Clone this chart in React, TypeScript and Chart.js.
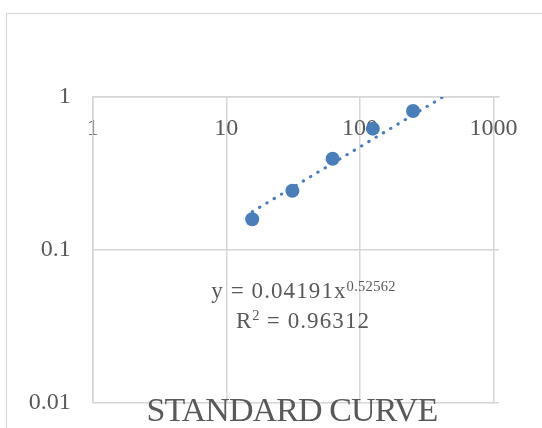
import React, { useEffect, useRef } from "react";
import { Chart, registerables } from "chart.js";

Chart.register(...registerables);

// ---- data ----
const concentrations = [15.625, 31.25, 62.5, 125, 250];
const absorbances = [0.159, 0.244, 0.395, 0.621, 0.81];
const xTickValues = [1, 10, 100, 1000];
const yTickValues = [0.01, 0.1, 1];
const trendCoefA = 0.04191;
const trendExpB = 0.52562;
const trendXRange = [15.625, 418.6];
const equationMain = "y = 0.04191x";
const equationExp = "0.52562";
const r2Base = "R";
const r2Sup = "2";
const r2Rest = " = 0.96312";
const chartTitle = "STANDARD CURVE";

const BLUE = "#4a7ebb";
const GRID = "#d6d6d6";
const TEXT = "#595959";
const SERIF = '"Liberation Serif", "Times New Roman", serif';

const overlayPlugin = {
  id: "overlay",
  beforeDraw(chart: any) {
    const ctx = chart.ctx;
    ctx.save();
    ctx.strokeStyle = "#d9d9d9";
    ctx.lineWidth = 1.2;
    ctx.strokeRect(6.5, 13.5, 1000, 1000);
    ctx.restore();
  },
  afterDraw(chart: any) {
    const ctx = chart.ctx;
    const area = chart.chartArea;
    ctx.save();
    ctx.fillStyle = TEXT;
    ctx.textAlign = "left";
    ctx.textBaseline = "alphabetic";

    const mainFont = `23px ${SERIF}`;
    const mainSpacing = "1.1px";
    const supFont = `14.5px ${SERIF}`;
    const supSpacing = "0.3px";

    // equation line 1
    const cx = 303.5;
    ctx.font = mainFont;
    (ctx as any).letterSpacing = mainSpacing;
    const w1 = ctx.measureText(equationMain).width;
    ctx.font = supFont;
    (ctx as any).letterSpacing = supSpacing;
    const w2 = ctx.measureText(equationExp).width;
    let sx = cx - (w1 + w2) / 2;
    ctx.font = mainFont;
    (ctx as any).letterSpacing = mainSpacing;
    ctx.fillText(equationMain, sx, 298);
    ctx.font = supFont;
    (ctx as any).letterSpacing = supSpacing;
    ctx.fillText(equationExp, sx + w1, 290.7);

    // equation line 2
    ctx.font = mainFont;
    (ctx as any).letterSpacing = mainSpacing;
    const wr = ctx.measureText(r2Base).width;
    const wrest = ctx.measureText(r2Rest).width;
    ctx.font = supFont;
    (ctx as any).letterSpacing = supSpacing;
    const ws = ctx.measureText(r2Sup).width;
    sx = 303 - (wr + ws + wrest) / 2;
    ctx.font = mainFont;
    (ctx as any).letterSpacing = mainSpacing;
    ctx.fillText(r2Base, sx, 328);
    ctx.fillText(r2Rest, sx + wr + ws, 328);
    ctx.font = supFont;
    (ctx as any).letterSpacing = supSpacing;
    ctx.fillText(r2Sup, sx + wr, 320);

    // title
    ctx.font = `34px ${SERIF}`;
    (ctx as any).letterSpacing = "-0.9px";
    const wt = ctx.measureText(chartTitle).width;
    const tcx = (area.left + area.right) / 2 - 4;
    ctx.fillText(chartTitle, tcx - wt / 2, area.bottom + 18);
    ctx.restore();
  },
};

export default function App() {
  const ref = useRef<HTMLCanvasElement>(null);

  useEffect(() => {
    const points = concentrations.map((x, i) => ({ x, y: absorbances[i] }));
    const trend = trendXRange.map((x) => ({ x, y: trendCoefA * Math.pow(x, trendExpB) }));
    const tickFont = { family: SERIF, size: 24 };

    const chart = new Chart(ref.current as HTMLCanvasElement, {
      type: "scatter",
      data: {
        datasets: [
          {
            type: "line",
            label: "Power trend",
            data: trend,
            borderColor: BLUE,
            borderWidth: 3,
            borderDash: [0.5, 8],
            borderCapStyle: "round",
            pointRadius: 0,
            fill: false,
            tension: 0,
            order: 0,
          } as any,
          {
            label: "Standard",
            data: points,
            backgroundColor: BLUE,
            borderColor: BLUE,
            borderWidth: 0,
            pointRadius: 7,
            pointHoverRadius: 7,
            showLine: false,
            order: 1,
          },
        ],
      },
      options: {
        responsive: false,
        animation: false,
        events: [],
        layout: { padding: { left: 0, top: 97, right: 43, bottom: 25 } },
        plugins: {
          legend: { display: false },
          tooltip: { enabled: false },
          title: { display: false },
        },
        scales: {
          x: {
            type: "logarithmic",
            min: 1,
            max: 1100,
            position: { y: 1 } as any,
            z: 1,
            afterBuildTicks: (s: any) => {
              s.ticks = xTickValues.map((v) => ({ value: v }));
            },
            ticks: {
              autoSkip: false,
              maxRotation: 0,
              padding: 17,
              color: TEXT,
              font: tickFont,
              callback: (v: any) => String(v),
            },
            grid: { color: GRID, lineWidth: 1.5, drawTicks: false },
            border: { display: true, color: GRID, width: 1.5 },
          },
          y: {
            type: "logarithmic",
            min: 0.01,
            max: 1,
            position: "left",
            afterBuildTicks: (s: any) => {
              s.ticks = yTickValues.map((v) => ({ value: v }));
            },
            afterFit: (s: any) => {
              s.width = 92.7;
              s.paddingTop = 0;
              s.paddingBottom = 0;
            },
            ticks: {
              autoSkip: false,
              padding: 22,
              color: TEXT,
              font: tickFont,
              callback: (v: any) => String(v),
            },
            grid: { color: GRID, lineWidth: 1.5, drawTicks: false },
            border: { display: true, color: GRID, width: 1.5 },
          },
        },
      } as any,
      plugins: [overlayPlugin],
    });
    return () => chart.destroy();
  }, []);

  return (
    <div
      style={{
        position: "fixed",
        left: 0,
        top: 0,
        width: 542,
        height: 428,
        overflow: "hidden",
        background: "#ffffff",
      }}
    >
      <canvas ref={ref} width={542} height={428} style={{ display: "block" }} />
    </div>
  );
}
